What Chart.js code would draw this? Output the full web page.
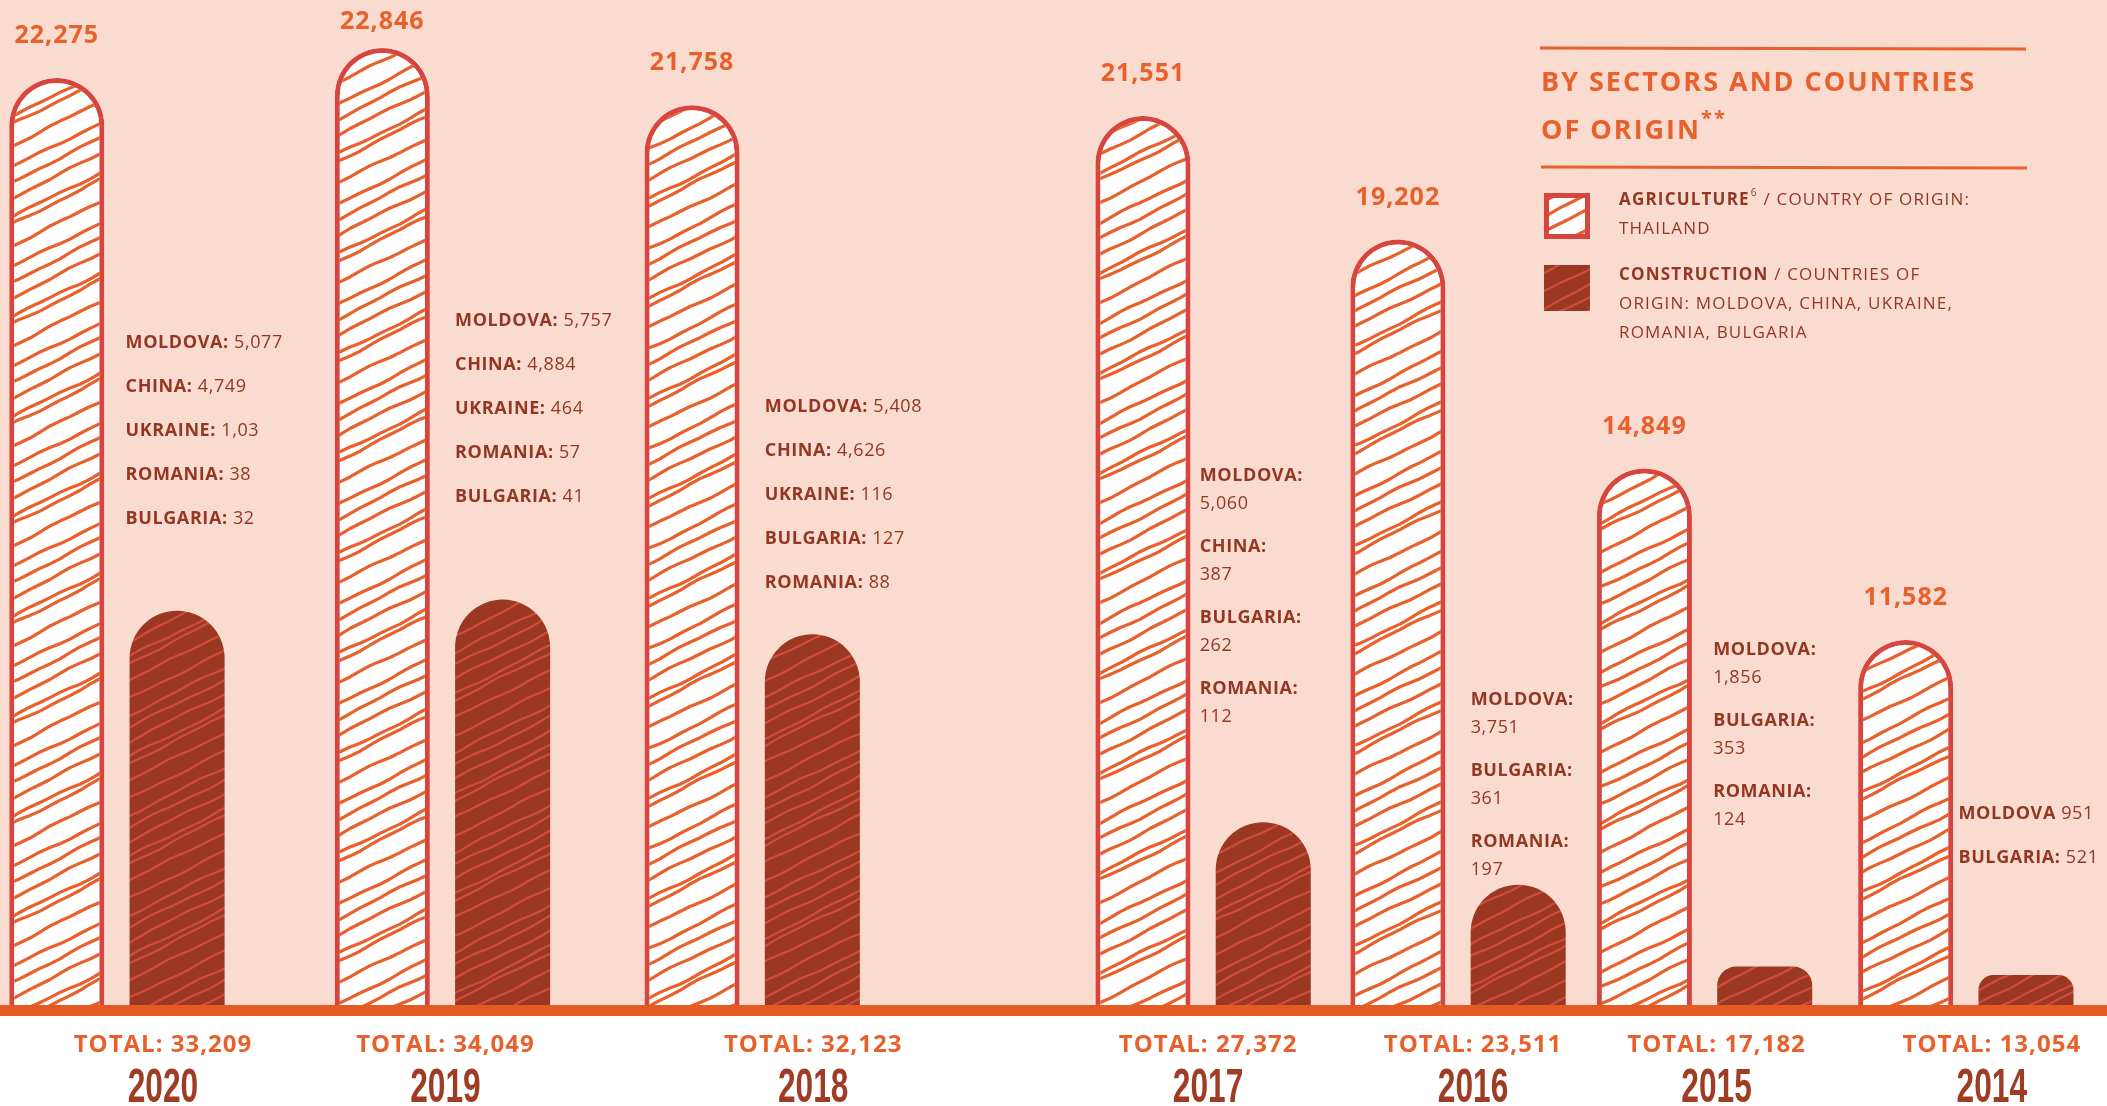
<!DOCTYPE html>
<html>
<head>
<meta charset="utf-8">
<script src="https://cdn.jsdelivr.net/npm/chart.js@4.4.1/dist/chart.umd.min.js"></script>
<style>
  html, body { margin: 0; padding: 0; background: #f9dbd0; }
  #wrap { width: 2107px; height: 1106px; }
</style>
</head>
<body>
<div id="wrap"><canvas id="chart" width="2107" height="1106"></canvas></div>
<script>
// workers by year
const years = ['2020', '2019', '2018', '2017', '2016', '2015', '2014'];
const agriculture = [22275, 22846, 21758, 21551, 19202, 14849, 11582];
const totals = [33209, 34049, 32123, 27372, 23511, 17182, 13054];
const construction = totals.map((t, i) => t - agriculture[i]);

// construction breakdown printed beside each pair
const notes = [
  [['MOLDOVA:', '5,077'], ['CHINA:', '4,749'], ['UKRAINE:', '1,03'], ['ROMANIA:', '38'], ['BULGARIA:', '32']],
  [['MOLDOVA:', '5,757'], ['CHINA:', '4,884'], ['UKRAINE:', '464'], ['ROMANIA:', '57'], ['BULGARIA:', '41']],
  [['MOLDOVA:', '5,408'], ['CHINA:', '4,626'], ['UKRAINE:', '116'], ['BULGARIA:', '127'], ['ROMANIA:', '88']],
  [['MOLDOVA:', '5,060'], ['CHINA:', '387'], ['BULGARIA:', '262'], ['ROMANIA:', '112']],
  [['MOLDOVA:', '3,751'], ['BULGARIA:', '361'], ['ROMANIA:', '197']],
  [['MOLDOVA:', '1,856'], ['BULGARIA:', '353'], ['ROMANIA:', '124']],
  [['MOLDOVA', '951'], ['BULGARIA:', '521']]
];

// layout: where each year sits (0-100 across), note blocks, caption nudges
const groupPos = [5.55, 21.0, 35.7, 57.1, 69.2, 80.9, 93.3];
const noteTop = [343, 321, 407, 476, 700, 650, 814];
const noteShift = [-4, 0, 0, -16, 0, -4, -20];
const noteStacked = [false, false, false, true, true, true, false];
const captionNudge = [46, 3, 61, 5, 15, 12, 26];

// the two series use their own hidden value axes
const agriAxis = [4640, 23760];
const constrAxis = [1400, 25700];

const ORANGE = '#e8602b';
const BROWN = '#943722';
const BAR_RED = '#d6463f';
const BODY = '"Open Sans", "Noto Sans", sans-serif';

const canvas = document.getElementById('chart');
const ctx = canvas.getContext('2d');

// hand-drawn looking diagonal hatching, tile repeats seamlessly
function hatch(bg, stroke, lw, offsets) {
  const W = 200, H = 100;
  const c = document.createElement('canvas');
  c.width = W; c.height = H;
  const g = c.getContext('2d');
  g.fillStyle = bg;
  g.fillRect(0, 0, W, H);
  g.strokeStyle = stroke;
  g.lineWidth = lw;
  g.lineCap = 'round';
  g.lineJoin = 'round';
  offsets.forEach((o, k) => {
    for (let rep = -1; rep <= 2; rep++) {
      g.beginPath();
      for (let x = 0; x <= W; x += 10) {
        const wob = 0.9 * Math.sin((x / W) * Math.PI * 4 + k * 2.3) + 0.5 * Math.sin((x / W) * Math.PI * 10 + k);
        const y = o + rep * H - x * 0.5 + wob;
        if (x === 0) g.moveTo(x, y); else g.lineTo(x, y);
      }
      g.stroke();
    }
  });
  return ctx.createPattern(c, 'repeat');
}

const agriFill = hatch('#ffffff', ORANGE, 3.2, [4, 23, 30, 52, 73, 88]);
const constrFill = hatch('#9a3822', '#d04b3d', 2.2, [6, 21, 28, 45, 63, 80, 92]);

function fmt(n) { return n.toLocaleString('en-US'); }

function runs(c, x, y, parts) {
  let cx = x;
  parts.forEach(p => {
    c.font = p.font;
    c.fillText(p.t, cx, y + (p.dy || 0));
    cx += c.measureText(p.t).width;
  });
  return cx;
}

const decor = {
  id: 'decor',
  beforeDraw(chart) {
    const c = chart.ctx, a = chart.chartArea;
    c.save();
    c.fillStyle = '#f9dbd0';
    c.fillRect(0, 0, chart.width, chart.height);
    c.fillStyle = '#ffffff';
    c.fillRect(0, a.bottom, chart.width, chart.height - a.bottom);
    c.restore();
  },
  afterDatasetsDraw(chart) {
    const c = chart.ctx, a = chart.chartArea;
    const agriBars = chart.getDatasetMeta(0).data;
    const constrBars = chart.getDatasetMeta(1).data;
    const xs = chart.scales.x;
    c.save();

    // ground line
    c.fillStyle = '#e35a23';
    c.fillRect(0, a.bottom, chart.width, 11);

    c.textBaseline = 'middle';
    years.forEach((yr, i) => {
      // value above agriculture bar
      const b = agriBars[i];
      c.letterSpacing = '1px';
      c.fillStyle = ORANGE;
      c.textAlign = 'center';
      c.font = 'bold 25px ' + BODY;
      c.fillText(fmt(agriculture[i]), b.x, Math.max(b.y - 42, 22));

      // construction breakdown
      const cb = constrBars[i];
      const left = cb.x - cb.width / 2 + noteShift[i];
      c.textAlign = 'left';
      c.fillStyle = BROWN;
      c.letterSpacing = '0.6px';
      let y = noteTop[i];
      notes[i].forEach(([name, val]) => {
        if (noteStacked[i]) {
          c.font = 'bold 18px ' + BODY;
          c.fillText(name, left, y);
          c.font = '18px ' + BODY;
          c.fillText(val, left, y + 28);
          y += 71;
        } else {
          runs(c, left, y, [
            { t: name + ' ', font: 'bold 18px ' + BODY },
            { t: val, font: '18px ' + BODY }
          ]);
          y += 44;
        }
      });

      // totals and year under the ground line
      const gx = xs.getPixelForValue(groupPos[i]) + captionNudge[i];
      c.textAlign = 'center';
      c.fillStyle = ORANGE;
      c.letterSpacing = '1px';
      c.font = 'bold 24px ' + BODY;
      c.fillText('TOTAL: ' + fmt(totals[i]), gx, 1045);

      // narrow year numerals
      c.save();
      c.letterSpacing = '0px';
      c.translate(gx, 1089);
      c.scale(0.66, 1);
      c.fillStyle = '#9e3c24';
      c.font = 'bold 48px "Liberation Sans", Arial, sans-serif';
      c.fillText(yr, 0, 0);
      c.restore();
    });

    // legend block
    c.strokeStyle = ORANGE;
    c.lineWidth = 3;
    c.beginPath();
    c.moveTo(1540, 48); c.lineTo(2026, 49);
    c.moveTo(1541, 167); c.lineTo(2027, 168);
    c.stroke();

    c.textAlign = 'left';
    c.fillStyle = ORANGE;
    c.letterSpacing = '2px';
    c.font = 'bold 27px ' + BODY;
    c.fillText('BY SECTORS AND COUNTRIES', 1541, 83);
    const ex = runs(c, 1541, 131, [{ t: 'OF ORIGIN', font: 'bold 27px ' + BODY }]);
    c.font = 'bold 20px ' + BODY;
    c.fillText('**', ex, 119);

    // swatches
    c.fillStyle = BAR_RED;
    c.fillRect(1544, 193, 46, 46);
    c.fillStyle = agriFill;
    c.fillRect(1549, 198, 36, 36);
    c.fillStyle = constrFill;
    c.fillRect(1544, 265, 46, 46);

    c.fillStyle = BROWN;
    c.letterSpacing = '1.2px';
    const lx = 1619;
    const ax = runs(c, lx, 200, [{ t: 'AGRICULTURE', font: 'bold 17px ' + BODY }]);
    c.font = '10px ' + BODY;
    c.fillText('6', ax + 1, 193);
    runs(c, ax + 8, 200, [{ t: ' / COUNTRY OF ORIGIN:', font: '17px ' + BODY }]);
    c.font = '17px ' + BODY;
    c.fillText('THAILAND', lx, 229);
    runs(c, lx, 275, [
      { t: 'CONSTRUCTION', font: 'bold 17px ' + BODY },
      { t: ' / COUNTRIES OF', font: '17px ' + BODY }
    ]);
    c.font = '17px ' + BODY;
    c.fillText('ORIGIN: MOLDOVA, CHINA, UKRAINE,', lx, 304);
    c.fillText('ROMANIA, BULGARIA', lx, 333);
    c.restore();
  }
};

new Chart(ctx, {
  type: 'bar',
  data: {
    datasets: [
      {
        label: 'Agriculture',
        data: groupPos.map((x, i) => ({ x, y: agriculture[i] })),
        yAxisID: 'yA',
        base: agriAxis[0],
        backgroundColor: agriFill,
        borderColor: BAR_RED,
        borderWidth: 5,
        borderSkipped: 'bottom',
        borderRadius: { topLeft: 60, topRight: 60, bottomLeft: 0, bottomRight: 0 }
      },
      {
        label: 'Construction',
        data: groupPos.map((x, i) => ({ x, y: construction[i] })),
        yAxisID: 'yC',
        base: constrAxis[0],
        minBarLength: 30,
        backgroundColor: constrFill,
        borderWidth: 0,
        borderRadius: { topLeft: 60, topRight: 60, bottomLeft: 0, bottomRight: 0 }
      }
    ]
  },
  options: {
    responsive: false,
    animation: false,
    devicePixelRatio: 1,
    barPercentage: 0.79,
    categoryPercentage: 0.976,
    layout: { padding: { top: 0, left: 0, right: 0, bottom: 101 } },
    plugins: { legend: { display: false }, tooltip: { enabled: false } },
    scales: {
      x: { type: 'linear', min: 0, max: 100, offset: false, display: false, ticks: { stepSize: 100 }, grid: { display: false } },
      yA: { type: 'linear', min: agriAxis[0], max: agriAxis[1], display: false },
      yC: { type: 'linear', min: constrAxis[0], max: constrAxis[1], display: false }
    }
  },
  plugins: [decor]
});
</script>
</body>
</html>
